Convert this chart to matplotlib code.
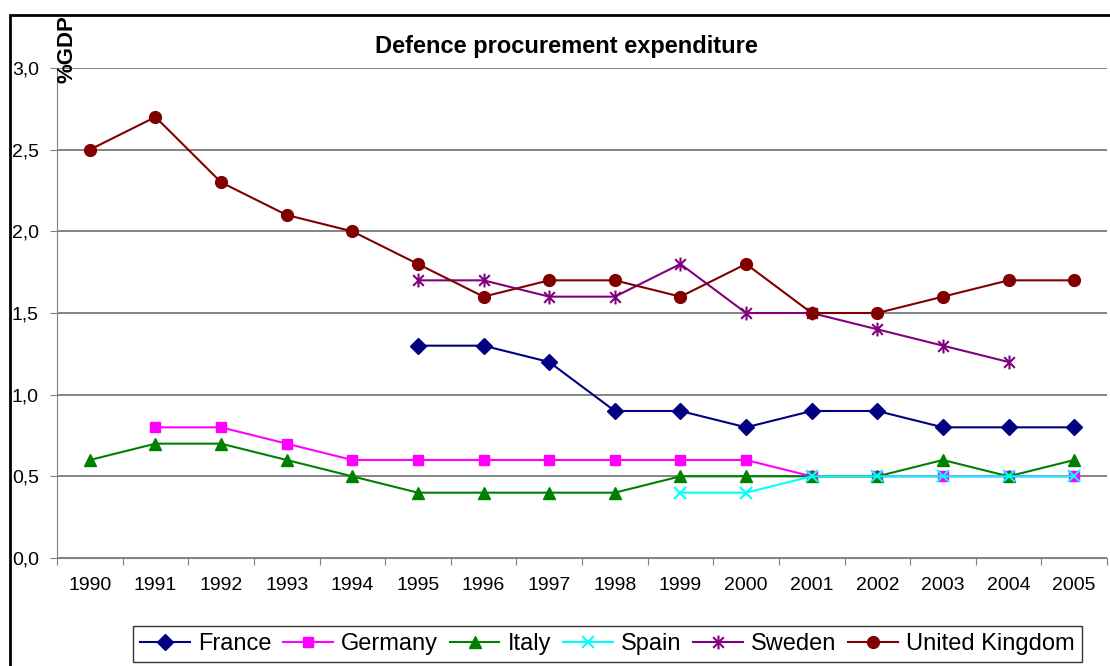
import matplotlib
matplotlib.use("Agg")
import matplotlib.pyplot as plt
import numpy as np
from matplotlib.path import Path
from matplotlib.patches import Rectangle

plt.rcParams['font.family'] = ['Liberation Sans', 'DejaVu Sans']

years = list(range(1990, 2006))

france_years = list(range(1995, 2006))
france = [1.3, 1.3, 1.2, 0.9, 0.9, 0.8, 0.9, 0.9, 0.8, 0.8, 0.8]

germany_years = list(range(1991, 2006))
germany = [0.8, 0.8, 0.7, 0.6, 0.6, 0.6, 0.6, 0.6, 0.6, 0.6, 0.5, 0.5, 0.5, 0.5, 0.5]

italy_years = list(range(1990, 2006))
italy = [0.6, 0.7, 0.7, 0.6, 0.5, 0.4, 0.4, 0.4, 0.4, 0.5, 0.5, 0.5, 0.5, 0.6, 0.5, 0.6]

spain_years = list(range(1999, 2006))
spain = [0.4, 0.4, 0.5, 0.5, 0.5, 0.5, 0.5]

sweden_years = list(range(1995, 2005))
sweden = [1.7, 1.7, 1.6, 1.6, 1.8, 1.5, 1.5, 1.4, 1.3, 1.2]

uk_years = list(range(1990, 2006))
uk = [2.5, 2.7, 2.3, 2.1, 2.0, 1.8, 1.6, 1.7, 1.7, 1.6, 1.8, 1.5, 1.5, 1.6, 1.7, 1.7]

# asterisk marker like Excel's (X plus vertical bar)
star = Path([(-1, -1), (1, 1), (-1, 1), (1, -1), (0, -1.3), (0, 1.3)],
            [Path.MOVETO, Path.LINETO, Path.MOVETO, Path.LINETO, Path.MOVETO, Path.LINETO])

series = [
    ("France", france_years, france, dict(color="#000080", marker="D", ms=8)),
    ("Germany", germany_years, germany, dict(color="#FF00FF", marker="s", ms=7.5)),
    ("Italy", italy_years, italy, dict(color="#008000", marker="^", ms=9)),
    ("Spain", spain_years, spain, dict(color="#00FFFF", marker="x", ms=8, mew=1.5)),
    ("Sweden", sweden_years, sweden, dict(color="#800080", marker=star, ms=10, mew=1.5, mfc="none")),
    ("United Kingdom", uk_years, uk, dict(color="#800000", marker="o", ms=8.5)),
]

fig = plt.figure(figsize=(11.1, 6.66), dpi=100)
ax = fig.add_axes([57 / 1110, 1 - 558 / 666, 1050 / 1110, 490 / 666])

for name, yrs, vals, style in series:
    xs = [years.index(y) for y in yrs]
    ax.plot(xs, vals, lw=1.5, label=name, **style)

ax.set_xlim(-0.5, len(years) - 0.5)
ax.set_ylim(0, 3)
ax.set_xticks(np.arange(-0.5, len(years)), labels=[])
ax.set_xticks(np.arange(len(years)), labels=[str(y) for y in years], minor=True)
ax.tick_params(axis="x", which="major", direction="out", length=5, color="#808080")
ax.tick_params(axis="x", which="minor", length=0, pad=14, labelsize=14)
yt = np.arange(0, 3.01, 0.5)
ax.set_yticks(yt, labels=[f"{v:.1f}".replace(".", ",") for v in yt])
ax.tick_params(axis="y", direction="out", length=5, pad=8, labelsize=14, color="#808080")
ax.grid(axis="y", color="#707070", lw=1.2)
ax.set_axisbelow(True)
for s in ["top", "right"]:
    ax.spines[s].set_visible(False)
for s in ["left", "bottom"]:
    ax.spines[s].set_color("#808080")

fig.text(0.51, 1 - 46 / 666, "Defence procurement expenditure", ha="center", va="center",
         fontsize=17, fontweight="bold")
fig.text(67 / 1110, 1 - 49 / 666, "%GDP", rotation=90, ha="center", va="center",
         fontsize=16, fontweight="bold")

leg = fig.legend(loc="upper left", bbox_to_anchor=(133 / 1110, 1 - 626 / 666), ncol=6,
                 fontsize=17, frameon=True, fancybox=False, handlelength=2.1,
                 columnspacing=0.5, handletextpad=0.35, borderpad=0.3, borderaxespad=0)
leg.get_frame().set_edgecolor("black")
leg.get_frame().set_linewidth(1)

fig.patches.append(Rectangle((10 / 1110, -0.2), 1.2, 1 - 15 / 666 + 0.2, fill=False,
                             lw=2, edgecolor="black", transform=fig.transFigure))

fig.savefig("out.png", dpi=100)
